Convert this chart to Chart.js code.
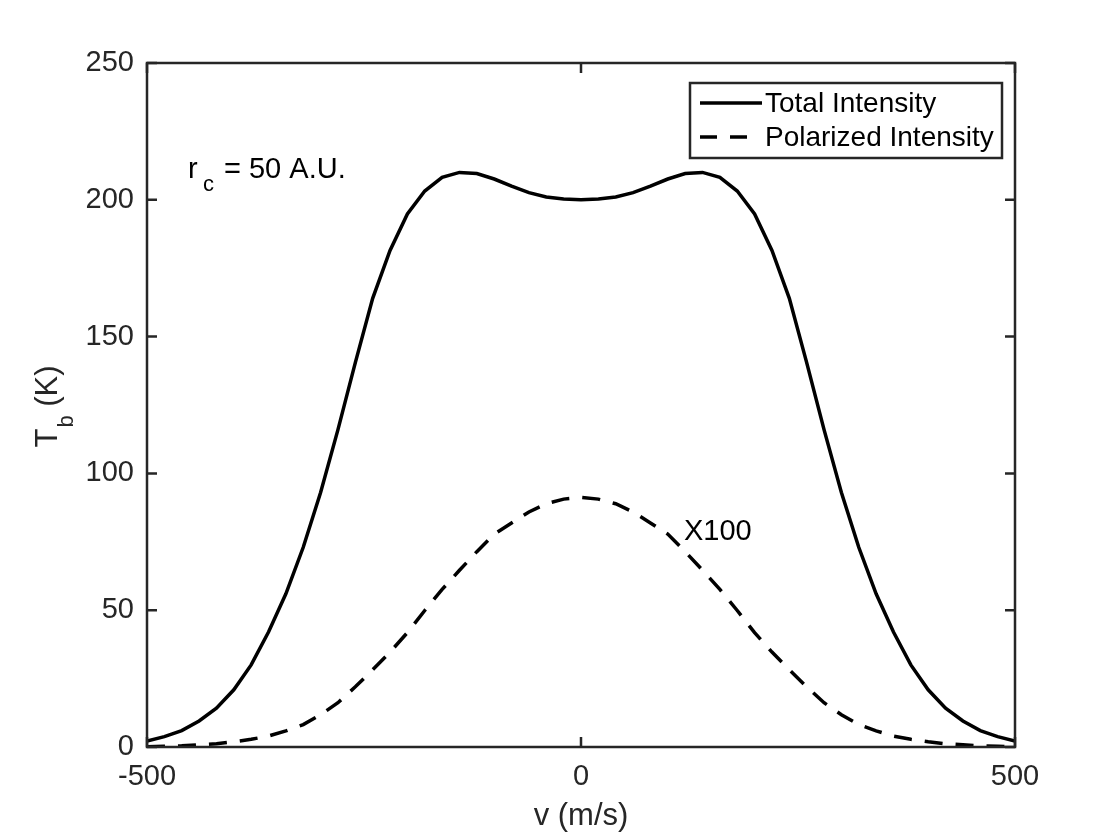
<!DOCTYPE html>
<html>
<head>
<meta charset="utf-8">
<title>Tb vs v</title>
<script src="https://cdn.jsdelivr.net/npm/chart.js@4.4.1/dist/chart.umd.min.js"></script>
<style>
  html, body { margin: 0; padding: 0; background: #fff; }
  #wrap { width: 1120px; height: 840px; }
</style>
</head>
<body>
<div id="wrap"><canvas id="chart" width="1120" height="840"></canvas></div>
<script>
// velocities (m/s)
const velocity = [-500, -480, -460, -440, -420, -400, -380, -360, -340, -320,
  -300, -280, -260, -240, -220, -200, -180, -160, -140, -120,
  -100, -80, -60, -40, -20, 0, 20, 40, 60, 80,
  100, 120, 140, 160, 180, 200, 220, 240, 260, 280,
  300, 320, 340, 360, 380, 400, 420, 440, 460, 480, 500];

// total intensity Tb (K)
const totalIntensity = [2.2, 3.8, 6.0, 9.5, 14.2, 20.9, 30.0, 42.0, 56.0, 73.0,
  93.0, 116.0, 140.5, 164.0, 181.5, 194.8, 203.2, 208.2, 210.0, 209.6,
  207.6, 205.0, 202.6, 201.0, 200.3, 200.0, 200.3, 201.0, 202.6, 205.0,
  207.6, 209.6, 210.0, 208.2, 203.2, 194.8, 181.5, 164.0, 140.5, 116.0,
  93.0, 73.0, 56.0, 42.0, 30.0, 20.9, 14.2, 9.5, 6.0, 3.8, 2.2];

// polarized intensity (x100)
const polarizedIntensity = [0.1, 0.25, 0.45, 0.8, 1.2, 1.9, 2.8, 4.0, 5.9, 8.2,
  11.8, 16.2, 22.0, 28.2, 34.7, 41.8, 49.9, 57.6, 64.6, 71.4,
  77.8, 81.9, 85.9, 88.9, 90.6, 91.2, 90.6, 88.9, 85.9, 81.9,
  77.8, 71.4, 64.6, 57.6, 49.9, 41.8, 34.7, 28.2, 22.0, 16.2,
  11.8, 8.2, 5.9, 4.0, 2.8, 1.9, 1.2, 0.8, 0.45, 0.25, 0.1];

const xTicks = [-500, 0, 500];
const yTicks = [0, 50, 100, 150, 200, 250];
const seriesNames = ['Total Intensity', 'Polarized Intensity'];

const FONT = '"Liberation Sans", Arial, Helvetica, sans-serif';
const INK = '#262626';
const DASH = [18, 13];

function pts(ys) {
  return velocity.map((v, i) => ({ x: v, y: ys[i] }));
}

// frame, inward ticks, legend and the text notes
const framePlugin = {
  id: 'frame',
  afterDraw(chart) {
    const ctx = chart.ctx;
    const a = chart.chartArea;
    const xs = chart.scales.x, ys = chart.scales.y;
    ctx.save();
    ctx.strokeStyle = INK;
    ctx.lineWidth = 2.5;
    ctx.strokeRect(a.left, a.top, a.right - a.left, a.bottom - a.top);
    ctx.beginPath();
    xTicks.forEach(t => {
      const px = xs.getPixelForValue(t);
      ctx.moveTo(px, a.bottom); ctx.lineTo(px, a.bottom - 10);
      ctx.moveTo(px, a.top); ctx.lineTo(px, a.top + 10);
    });
    yTicks.forEach(t => {
      const py = ys.getPixelForValue(t);
      ctx.moveTo(a.left, py); ctx.lineTo(a.left + 10, py);
      ctx.moveTo(a.right, py); ctx.lineTo(a.right - 10, py);
    });
    ctx.stroke();

    // legend
    ctx.fillStyle = '#fff';
    ctx.fillRect(690, 83, 312, 75);
    ctx.strokeRect(690, 83, 312, 75);
    ctx.strokeStyle = '#000';
    ctx.lineWidth = 3.5;
    ctx.beginPath(); ctx.moveTo(700, 103); ctx.lineTo(762, 103); ctx.stroke();
    ctx.setLineDash([17, 13]);
    ctx.beginPath(); ctx.moveTo(700, 137); ctx.lineTo(747, 137); ctx.stroke();
    ctx.setLineDash([]);
    ctx.fillStyle = '#000';
    ctx.font = '28px ' + FONT;
    ctx.textBaseline = 'middle';
    ctx.textAlign = 'left';
    ctx.fillText(seriesNames[0], 765, 104);
    ctx.fillText(seriesNames[1], 765, 138);

    // r_c note
    ctx.textBaseline = 'alphabetic';
    ctx.font = '29px ' + FONT;
    ctx.fillText('r', 188, 178);
    ctx.font = '22px ' + FONT;
    ctx.fillText('c', 203, 191);
    ctx.font = '29px ' + FONT;
    ctx.fillText('= 50 A.U.', 224, 178);

    // scale note
    ctx.fillText('X100', 684, 540);

    // y title with subscript
    ctx.fillStyle = INK;
    ctx.translate(57, 407);
    ctx.rotate(-Math.PI / 2);
    ctx.textAlign = 'left';
    ctx.font = '31px ' + FONT;
    const w1 = ctx.measureText('T').width;
    const sub = 'b';
    ctx.font = '22px ' + FONT;
    const w2 = ctx.measureText(sub).width;
    ctx.font = '31px ' + FONT;
    const w3 = ctx.measureText(' (K)').width;
    const x0 = -(w1 + w2 + w3) / 2;
    ctx.fillText('T', x0, 0);
    ctx.font = '22px ' + FONT;
    ctx.fillText(sub, x0 + w1 + 1, 16);
    ctx.font = '31px ' + FONT;
    ctx.fillText(' (K)', x0 + w1 + w2 + 1, 0);
    ctx.restore();
  }
};

new Chart(document.getElementById('chart'), {
  type: 'line',
  data: {
    datasets: [
      {
        label: seriesNames[0],
        data: pts(totalIntensity),
        borderColor: '#000',
        borderWidth: 3.5,
        pointRadius: 0,
        tension: 0,
        fill: false
      },
      {
        label: seriesNames[1],
        data: pts(polarizedIntensity),
        borderColor: '#000',
        borderWidth: 3.5,
        borderDash: DASH,
        pointRadius: 0,
        tension: 0,
        fill: false
      }
    ]
  },
  options: {
    responsive: false,
    devicePixelRatio: 1,
    animation: false,
    layout: { padding: { left: 0, top: 63, right: 105, bottom: 0 } },
    plugins: {
      legend: { display: false },
      tooltip: { enabled: false }
    },
    scales: {
      x: {
        type: 'linear',
        min: -500,
        max: 500,
        afterBuildTicks: s => { s.ticks = xTicks.map(v => ({ value: v })); },
        afterFit: s => { s.height = 93; },
        grid: { display: false, drawTicks: false },
        border: { display: false },
        ticks: { color: INK, font: { family: FONT, size: 29 }, padding: 13, maxRotation: 0 },
        title: {
          display: true,
          text: 'v (m/s)',
          color: INK,
          font: { family: FONT, size: 31 },
          padding: { top: 0, bottom: 5 }
        }
      },
      y: {
        min: 0,
        max: 250,
        afterBuildTicks: s => { s.ticks = yTicks.map(v => ({ value: v })); },
        afterFit: s => { s.width = 147; },
        grid: { display: false, drawTicks: false },
        border: { display: false },
        ticks: { color: INK, font: { family: FONT, size: 29 }, padding: 13 }
      }
    }
  },
  plugins: [framePlugin]
});
</script>
</body>
</html>
